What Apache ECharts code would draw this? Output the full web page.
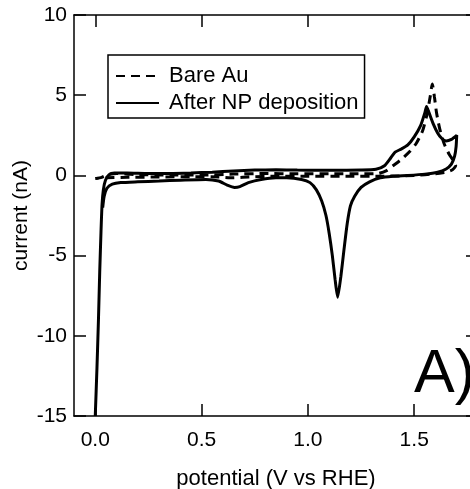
<!DOCTYPE html>
<html>
<head>
<meta charset="utf-8">
<script src="https://cdn.jsdelivr.net/npm/echarts@6/dist/echarts.min.js"></script>
<style>
  html, body { margin: 0; padding: 0; background: #fff; }
  #cv_main { width: 470px; height: 489px; }
</style>
</head>
<body>
<div id="cv_main"></div>
<script>
// potential (V vs RHE) and current (nA)
var afterV = [0.000, 0.008, 0.015, 0.021, 0.027, 0.032, 0.038, 0.048, 0.065, 0.09, 0.15, 0.25, 0.35, 0.45, 0.55, 0.65, 0.75, 0.85, 0.95, 1.05, 1.15, 1.25, 1.32, 1.36, 1.39, 1.41, 1.44, 1.47, 1.50, 1.53, 1.55, 1.558, 1.57, 1.59, 1.61, 1.63, 1.65, 1.675, 1.70, 1.697, 1.69, 1.675, 1.65, 1.61, 1.55, 1.47, 1.40, 1.34, 1.29, 1.25, 1.22, 1.20, 1.185, 1.17, 1.155, 1.14, 1.128, 1.115, 1.10, 1.085, 1.065, 1.04, 1.01, 0.97, 0.90, 0.85, 0.78, 0.72, 0.68, 0.655, 0.62, 0.58, 0.52, 0.40, 0.30, 0.20, 0.12, 0.08, 0.055, 0.042, 0.035];
var afterI = [-15.0, -12.0, -9.0, -6.0, -3.5, -1.8, -0.9, -0.3, 0.05, 0.15, 0.15, 0.12, 0.12, 0.15, 0.2, 0.28, 0.33, 0.35, 0.33, 0.32, 0.32, 0.33, 0.38, 0.6, 1.1, 1.45, 1.65, 1.9, 2.4, 3.1, 3.9, 4.3, 3.9, 3.2, 2.65, 2.3, 2.15, 2.25, 2.5, 1.8, 1.2, 0.7, 0.4, 0.2, 0.08, 0.0, -0.05, -0.15, -0.4, -0.75, -1.3, -1.9, -3.0, -4.6, -6.3, -7.6, -6.5, -5.0, -3.6, -2.5, -1.6, -0.9, -0.45, -0.25, -0.15, -0.15, -0.25, -0.45, -0.7, -0.75, -0.6, -0.35, -0.25, -0.3, -0.35, -0.4, -0.45, -0.55, -0.8, -1.3, -2.0];

var bareV = [0.000, 0.03, 0.06, 0.10, 0.20, 0.35, 0.50, 0.65, 0.80, 0.95, 1.10, 1.25, 1.33, 1.37, 1.40, 1.44, 1.48, 1.51, 1.54, 1.56, 1.575, 1.585, 1.595, 1.605, 1.62, 1.64, 1.665, 1.685, 1.695, 1.68, 1.65, 1.60, 1.50, 1.35, 1.20, 1.00, 0.85, 0.72, 0.65, 0.58, 0.45, 0.30, 0.15, 0.05, 0.0];
var bareI = [-0.2, -0.12, 0.05, 0.12, 0.05, 0.02, 0.02, 0.08, 0.12, 0.1, 0.1, 0.1, 0.12, 0.3, 0.6, 1.0, 1.5, 2.0, 2.8, 3.8, 4.9, 5.7, 4.9, 3.9, 2.9, 2.0, 1.3, 0.9, 0.6, 0.35, 0.2, 0.1, 0.0, -0.05, -0.05, -0.05, -0.05, -0.1, -0.15, -0.1, -0.08, -0.1, -0.12, -0.15, -0.2];

var xTicks = [0, 0.5, 1.0, 1.5];

function pairs(xs, ys) {
  var out = [];
  for (var i = 0; i < xs.length; i++) {
    out.push([xs[i], ys[i]]);
  }
  return out;
}

var chartDom = document.getElementById('cv_main');
var myChart = echarts.init(chartDom, null, { renderer: 'canvas' });
var font = 'Liberation Sans, Arial, sans-serif';
var ink = '#000';

// frame line and inward ticks, same for all four sides
var frameLine = { show: true, onZero: false, lineStyle: { color: ink, width: 1.5 } };
var frameTick = { show: true, inside: true, length: 12, lineStyle: { color: ink, width: 1.5 } };

var option = {
  animation: false,
  textStyle: { fontFamily: font, color: ink },
  grid: { left: 74, top: 15, right: -8, bottom: 73, containLabel: false, outerBoundsMode: 'none' },
  legend: {
    orient: 'vertical',
    left: 108,
    top: 55,
    padding: [10, 6, 4, 7],
    itemGap: 5,
    itemWidth: 43,
    itemHeight: 14,
    borderColor: ink,
    borderWidth: 1.5,
    borderRadius: 0,
    itemStyle: { opacity: 0 },
    textStyle: { fontSize: 22, color: ink, fontFamily: font, padding: [0, 0, 0, 5] },
    data: ['Bare Au', 'After NP deposition']
  },
  xAxis: [
    {
      type: 'value',
      min: -0.1,
      max: 1.8,
      name: 'potential (V vs RHE)',
      nameLocation: 'middle',
      nameGap: 52,
      nameTextStyle: { fontSize: 22, color: ink, fontFamily: font },
      axisLine: frameLine,
      axisTick: Object.assign({ customValues: xTicks }, frameTick),
      axisLabel: {
        customValues: xTicks,
        fontSize: 21,
        color: ink,
        margin: 14,
        formatter: function (v) { return v.toFixed(1); }
      },
      splitLine: { show: false }
    },
    {
      type: 'value',
      position: 'top',
      min: -0.1,
      max: 1.8,
      axisLine: frameLine,
      axisTick: Object.assign({ customValues: xTicks }, frameTick),
      axisLabel: { show: false },
      splitLine: { show: false }
    }
  ],
  yAxis: [
    {
      type: 'value',
      min: -15,
      max: 10,
      interval: 5,
      name: 'current (nA)',
      nameLocation: 'middle',
      nameGap: 42,
      nameMoveOverlap: false,
      nameTextStyle: { fontSize: 21, color: ink, fontFamily: font },
      axisLine: frameLine,
      axisTick: frameTick,
      axisLabel: { fontSize: 21, color: ink, margin: 7 },
      splitLine: { show: false }
    },
    {
      type: 'value',
      position: 'right',
      min: -15,
      max: 10,
      interval: 5,
      axisLine: frameLine,
      axisTick: frameTick,
      axisLabel: { show: false },
      splitLine: { show: false }
    }
  ],
  graphic: [
    {
      type: 'text',
      left: 414,
      top: 345,
      style: { text: 'A)', font: '61px ' + font, fill: ink }
    }
  ],
  series: [
    {
      name: 'Bare Au',
      type: 'line',
      data: pairs(bareV, bareI),
      symbol: 'none',
      smooth: 0.2,
      lineStyle: { color: ink, width: 3, type: [9, 6] },
      itemStyle: { color: ink }
    },
    {
      name: 'After NP deposition',
      type: 'line',
      data: pairs(afterV, afterI),
      symbol: 'none',
      smooth: 0.2,
      lineStyle: { color: ink, width: 3 },
      itemStyle: { color: ink }
    }
  ]
};

option && myChart.setOption(option);
</script>
</body>
</html>
